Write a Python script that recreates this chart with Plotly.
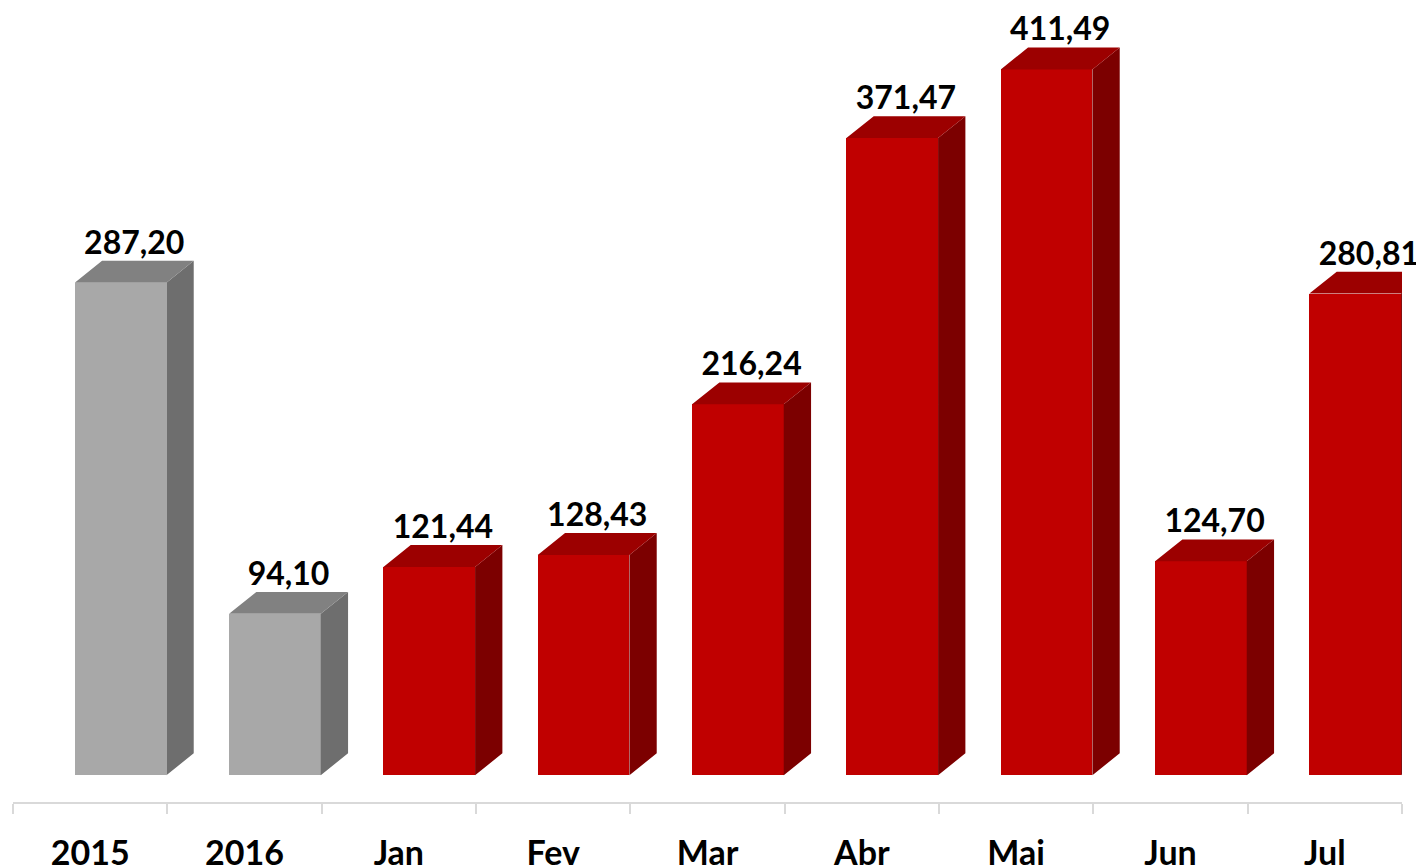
import plotly.graph_objects as go

categories = ["2015", "2016", "Jan", "Fev", "Mar", "Abr", "Mai", "Jun", "Jul"]
values = [287.20, 94.10, 121.44, 128.43, 216.24, 371.47, 411.49, 124.70, 280.81]
groups = ["ano", "ano", "mes", "mes", "mes", "mes", "mes", "mes", "mes"]

palette = {
    "ano": {"front": "#A8A8A8", "side": "#6E6E6E", "top": "#818181"},
    "mes": {"front": "#C00000", "side": "#7C0000", "top": "#9C0000"},
}

# geometry of the pseudo-3D bars (category units / data units)
FRONT_OFFSET = -0.100
FRONT_WIDTH = 0.594
DEPTH_X = 0.177
DEPTH_Y = 12.8
LABEL_GAP = 8.8

idx = list(range(len(categories)))
fig = go.Figure()

for g in ["ano", "mes"]:
    sx, sy, tx, ty = [], [], [], []
    for i, v, gg in zip(idx, values, groups):
        if gg != g:
            continue
        xl = i + FRONT_OFFSET
        xr = xl + FRONT_WIDTH
        sx += [xr, xr + DEPTH_X, xr + DEPTH_X, xr, xr, None]
        sy += [0, DEPTH_Y, v + DEPTH_Y, v, 0, None]
        tx += [xl, xl + DEPTH_X, xr + DEPTH_X, xr, xl, None]
        ty += [v, v + DEPTH_Y, v + DEPTH_Y, v, v, None]
    fig.add_trace(go.Scatter(x=sx, y=sy, mode="lines", fill="toself",
                             fillcolor=palette[g]["side"], line=dict(width=0),
                             hoverinfo="skip", showlegend=False))
    fig.add_trace(go.Scatter(x=tx, y=ty, mode="lines", fill="toself",
                             fillcolor=palette[g]["top"], line=dict(width=0),
                             hoverinfo="skip", showlegend=False))

fig.add_trace(go.Bar(
    x=idx, y=values, width=FRONT_WIDTH, offset=FRONT_OFFSET,
    marker=dict(color=[palette[g]["front"] for g in groups], line=dict(width=0)),
    showlegend=False, hoverinfo="skip",
))

labels = [f"{v:.2f}".replace(".", ",") for v in values]
fig.add_trace(go.Scatter(
    x=[i + FRONT_OFFSET + (FRONT_WIDTH + DEPTH_X) / 2 for i in idx],
    y=[v + DEPTH_Y + LABEL_GAP for v in values],
    mode="text", text=labels, textposition="middle center",
    textfont=dict(family="Lato", size=32, color="black", weight="bold"),
    cliponaxis=False, showlegend=False, hoverinfo="skip",
))

fig.update_layout(
    width=1416, height=867,
    margin=dict(l=13, r=14, t=0, b=65),
    paper_bgcolor="white", plot_bgcolor="white",
    xaxis=dict(
        range=[-0.5, len(categories) - 0.5],
        tickmode="array", tickvals=idx, ticktext=categories,
        ticks="", showgrid=False, zeroline=False, automargin=False,
        showline=True, linecolor="#D9D9D9", linewidth=2,
        tickfont=dict(family="Lato", size=34, color="black", weight="bold"),
        ticklabelstandoff=20,
        minor=dict(tickmode="array",
                   tickvals=[i - 0.5 for i in range(len(categories) + 1)],
                   ticks="outside", ticklen=10, tickwidth=2, tickcolor="#D9D9D9",
                   showgrid=False),
        fixedrange=True,
    ),
    yaxis=dict(range=[-15.6, 452.0], visible=False, showgrid=False,
               zeroline=False, fixedrange=True, automargin=False),
    bargap=0,
)

fig.write_html("out.html", config={"displayModeBar": False},
               post_script="document.body.style.margin='0';document.body.style.overflow='hidden';")
